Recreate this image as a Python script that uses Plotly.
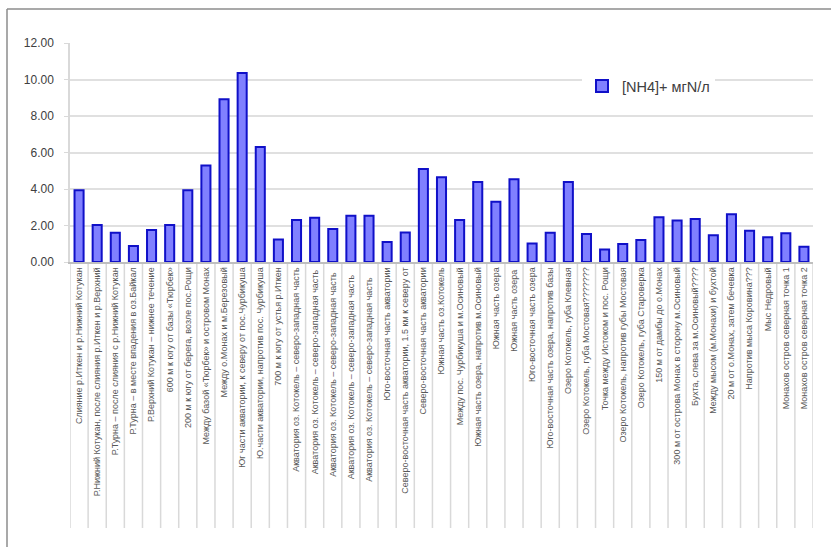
import plotly.graph_objects as go

# Sampling stations (lake Kotokel and surrounding rivers)
stations = [
    "Слияние р.Иткен и р.Нижний Котукан",
    "Р.Нижний Котукан, после слияния р.Иткен и р.Верхний",
    "Р.Турна – после слияния с р.Нижний Котукан",
    "Р.Турна – в месте впадения в оз.Байкал",
    "Р.Верхний Котукан – нижнее течение",
    "600 м к югу от базы «Тюрбек»",
    "200 м к югу от берега, возле пос.Рощи",
    "Между базой «Тюрбек» и островом Монах",
    "Между о.Монах и м.Березовый",
    "Юг части акватории, к северу от пос.Чурбикуша",
    "Ю.части акватории, напротив пос. Чурбикуша",
    "700 м к югу от устья р.Иткен",
    "Акватория оз. Котокель – северо-западная часть",
    "Акватория оз. Котокель – северо-западная часть ",
    "Акватория оз. Котокель – северо-западная часть  ",
    "Акватория оз. Котокель – северо-западная часть   ",
    "Акватория оз. Котокель – северо-западная часть    ",
    "Юго-восточная часть акватории",
    "Северо-восточная часть акватории, 1.5 км к северу от",
    "Северо-восточная часть акватории",
    "Южная часть оз.Котокель",
    "Между пос. Чурбикуша и м.Осиновый",
    "Южная часть озера, напротив м.Осиновый",
    "Южная часть озера",
    "Южная часть озера ",
    "Юго-восточная часть озера",
    "Юго-восточная часть озера, напротив базы",
    "Озеро Котокель, губа Клевная",
    "Озеро Котокель, губа Мостовая???????",
    "Точка между Истоком и пос. Рощи",
    "Озеро Котокель, напротив губы Мостовая",
    "Озеро Котокель, губа Староверка",
    "150 м от дамбы до о.Монах",
    "300 м от острова Монах в сторону м.Осиновый",
    "Бухта, слева за м.Осиновый????",
    "Между мысом (м.Монахи) и бухтой",
    "20 м от о.Монах, затем бечевка",
    "Напротив мыса Коровина???",
    "Мыс Недровый",
    "Монахов остров северная точка 1",
    "Монахов остров северная точка 2",
]

# Ammonium concentration, mgN/l
nh4 = [
    3.93, 2.03, 1.60, 0.87, 1.75, 2.03, 3.93, 5.29, 8.92, 10.36,
    6.30, 1.23, 2.30, 2.43, 1.81, 2.54, 2.54, 1.09, 1.62, 5.10,
    4.64, 2.30, 4.39, 3.30, 4.53, 1.01, 1.60, 4.39, 1.53, 0.68,
    0.98, 1.20, 2.45, 2.27, 2.36, 1.46, 2.62, 1.71, 1.35, 1.57,
    0.83,
]

y_ticks = [0, 2, 4, 6, 8, 10, 12]

W, H = 831, 547
L, R, T, B = 70, 18, 43, 285
pw, ph = W - L - R, H - T - B


def px_x(px):
    return (px - L) / pw


def px_y(py):
    return (H - B - py) / ph


fig = go.Figure()
fig.add_trace(go.Bar(
    x=stations,
    y=nh4,
    name="[NH4]+ мгN/л",
    width=0.5,
    marker=dict(color="#8080ff", line=dict(color="#1010c8", width=2)),
))

shapes = []
# separators between category labels
n = len(stations)
for i in range(n + 1):
    shapes.append(dict(
        type="line", xref="x", yref="paper",
        x0=i - 0.5, x1=i - 0.5, y0=0, y1=px_y(528),
        line=dict(color="#d9d9d9", width=1.5), layer="below",
    ))
# outer frame (left and top edges)
shapes.append(dict(type="line", xref="paper", yref="paper",
                   x0=px_x(7), x1=px_x(7), y0=px_y(9), y1=px_y(H + 5),
                   line=dict(color="#8c8c8c", width=1.5)))
shapes.append(dict(type="line", xref="paper", yref="paper",
                   x0=px_x(7), x1=px_x(W + 5), y0=px_y(9), y1=px_y(9),
                   line=dict(color="#8c8c8c", width=1.5)))

fig.update_layout(
    width=W, height=H,
    margin=dict(l=L, r=R, t=T, b=B, autoexpand=False),
    paper_bgcolor="white",
    plot_bgcolor="white",
    font=dict(family="Liberation Sans, Arial, sans-serif", color="#404040"),
    bargap=0.5,
    showlegend=True,
    legend=dict(
        x=px_x(582), y=px_y(86), xanchor="left", yanchor="middle",
        bgcolor="white",
        font=dict(size=14.5, color="#404040"),
        itemwidth=30,
    ),
    shapes=shapes,
    xaxis=dict(
        type="category",
        range=[-0.5, n - 0.5],
        tickangle=-90,
        tickfont=dict(size=9, color="#595959"),
        showgrid=False,
        showline=True, linecolor="#bfbfbf", linewidth=1.5,
        ticks="", automargin=False,
    ),
    yaxis=dict(
        range=[0, 12],
        tickvals=y_ticks,
        tickformat=".2f",
        tickfont=dict(size=12, color="#404040"),
        showgrid=True, gridcolor="#e0e0e0", gridwidth=1.5,
        zeroline=False,
        showline=True, linecolor="#d9d9d9", linewidth=1.5,
        ticks="outside", ticklen=4, tickcolor="#d9d9d9",
        ticklabelstandoff=8,
        automargin=False,
    ),
)

fig.write_html("out.html")
